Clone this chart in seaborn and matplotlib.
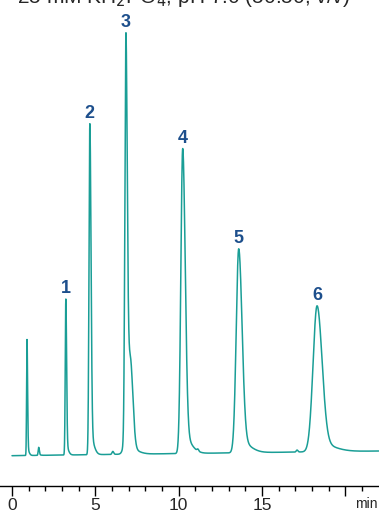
import numpy as np
import pandas as pd
import matplotlib
matplotlib.use('Agg')
import matplotlib.pyplot as plt
import seaborn as sns

# ----------------------------
# Peak table (time in min, height in detector units)
# ----------------------------
peak_labels = ['', '', '1', '2', '3', '', '', '4', '', '5', '', '6']
peak_times = [0.90, 1.60, 3.23, 4.67, 6.83, 6.05, 7.10, 10.24, 11.15, 13.60, 17.10, 18.30]
peak_heights = [116, 8, 156, 331, 387, 3, 85, 305, 2, 204, 2, 146]
sigma_left = [0.025, 0.03, 0.035, 0.05, 0.06, 0.05, 0.20, 0.11, 0.05, 0.15, 0.05, 0.24]
sigma_right = [0.035, 0.04, 0.045, 0.07, 0.08, 0.05, 0.15, 0.15, 0.05, 0.20, 0.05, 0.30]
tail_fraction = 0.06

baseline_start = 0.0
baseline_end = 4.7

title = r'25 mM KH$_2$PO$_4$, pH 7.0 (50:50, v/v)'
x_ticks = [0, 5, 10, 15, 20]
x_ticklabels = ['0', '5', '10', '15', '']

# ----------------------------
# Build trace
# ----------------------------
t = np.linspace(0, 22, 4400)
signal = baseline_start + (baseline_end - baseline_start) * t / 22
for tr, h, sl, sr in zip(peak_times, peak_heights, sigma_left, sigma_right):
    s = np.where(t < tr, sl, sr)
    s_tail = np.where(t < tr, sl, 3 * sr)
    signal = signal + h * (1 - tail_fraction) * np.exp(-0.5 * ((t - tr) / s) ** 2)
    signal = signal + h * tail_fraction * np.exp(-0.5 * ((t - tr) / s_tail) ** 2)

df = pd.DataFrame({'time': t, 'signal': signal})

# ----------------------------
# Plot
# ----------------------------
sns.set_style('white')
plt.rcParams['font.family'] = ['Liberation Sans', 'DejaVu Sans']

fig = plt.figure(figsize=(3.79, 5.13), dpi=100)
ax = fig.add_axes([0, 27 / 513, 1, 486 / 513])

sns.lineplot(data=df, x='time', y='signal', ax=ax, color='#1a9e96', linewidth=1.1)

ax.set_xlim(-12 / 16.67, (379 - 12) / 16.67)
ax.set_ylim(-30.3, 455.7)

# number each labelled peak just above its apex
for lab, tr in zip(peak_labels, peak_times):
    if lab:
        top = np.interp(tr, t, signal)
        ax.text(tr, top + 6, lab, ha='center', va='baseline', fontsize=13,
                fontweight='bold', color='#1d4f8c')

for side in ['top', 'right', 'left']:
    ax.spines[side].set_visible(False)
ax.spines['bottom'].set_linewidth(1.0)
ax.spines['bottom'].set_color('black')

ax.set_xticks(x_ticks)
ax.set_xticklabels(x_ticklabels, fontsize=12.5)
ax.set_xticks(np.arange(0, 22, 1), minor=True)
ax.tick_params(axis='x', which='major', direction='out', length=7, width=1,
               color='black', pad=2, bottom=True)
ax.tick_params(axis='x', which='minor', direction='out', length=3.6, width=1,
               color='black', bottom=True)
ax.set_yticks([])
ax.set_xlabel('')
ax.set_ylabel('')

fig.text(355 / 379, 2 / 513, 'min', fontsize=10, ha='left', va='bottom')
fig.text(17 / 379, 1 - 3 / 513, title, fontsize=15, ha='left', va='baseline')

fig.savefig('out.png', dpi=100)
